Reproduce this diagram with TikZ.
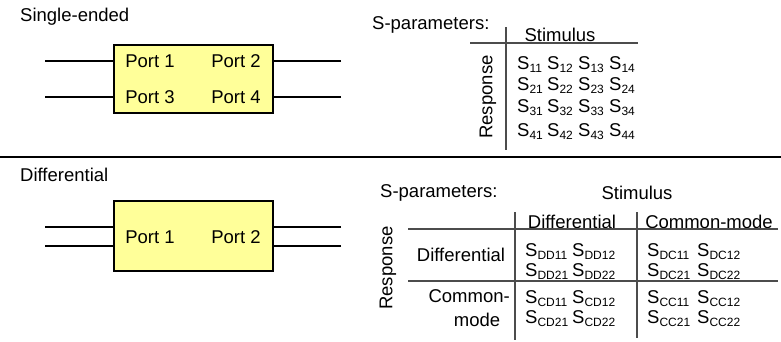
\documentclass[tikz,border=0pt]{standalone}
\usepackage{fontspec}
\setmainfont{Liberation Sans}
\definecolor{boxyellow}{RGB}{255,255,153}
\newcommand{\Sp}[1]{S\raisebox{-3.5pt}{\fontsize{12}{12}\selectfont #1}}
\begin{document}
\begin{tikzpicture}[x=1pt,y=-1pt, font=\fontsize{18.5}{20}\selectfont,
  txt/.style={inner sep=0pt},
  portbox/.style={draw, line width=1.4pt, fill=boxyellow, minimum width=159pt, inner sep=0pt},
  wire/.style={line width=1.3pt},
  tline/.style={line width=1.2pt, draw=black!70},
  entry/.style={inner sep=0pt, anchor=base west}]
\useasboundingbox (0,0) rectangle (781,341);

% ---------- Single-ended ----------
\node[txt, anchor=west] (se) at (20,17) {Single-ended};
\node[portbox, minimum height=68pt] (b1) at (193.5,79) {};
\node[txt] (p1) at (150,61) {Port 1};
\node[txt] (p2) at (236,61) {Port 2};
\node[txt] (p3) at (150,97) {Port 3};
\node[txt] (p4) at (236,97) {Port 4};
\coordinate (w1l) at (45,61);
\coordinate (w2l) at (45,97);
\coordinate (w1r) at (341,61);
\coordinate (w2r) at (341,97);
\draw[wire] (w1l) -- (w1l -| b1.west);
\draw[wire] (w2l) -- (w2l -| b1.west);
\draw[wire] (w1r) -- (w1r -| b1.east);
\draw[wire] (w2r) -- (w2r -| b1.east);

% top S-parameter matrix
\node[txt, anchor=west] (sp1) at (372,25) {S-parameters:};
\node[txt] (st1) at (560,35) {Stimulus};
\coordinate (v1t) at (506,27);
\coordinate (v1b) at (506,150);
\draw[tline] (v1t) -- (v1b);
\coordinate (h1l) at (470,43);
\coordinate (h1r) at (638,43);
\draw[tline] (h1l) -- (h1r);
\node[txt, rotate=90] (resp1) at (488,97) {Response};
\foreach \r/\yy in {1/69,2/90,3/112,4/136}{
  \foreach \c/\xx in {1/517,2/547,3/578,4/609}{
    \node[entry] (s\r\c) at (\xx,\yy) {\Sp{\r\c}};
  }
}

% divider
\coordinate (dl) at (0,157);
\coordinate (dr) at (781,157);
\draw[line width=1.8pt] (dl) -- (dr);

% ---------- Differential ----------
\node[txt, anchor=west] (df) at (20,175) {Differential};
\node[portbox, minimum height=70pt] (b2) at (193.5,236) {};
\node[txt] (q1) at (150,237) {Port 1};
\node[txt] (q2) at (236,237) {Port 2};
\coordinate (x1l) at (45,227);
\coordinate (x2l) at (45,246);
\coordinate (x1r) at (341,227);
\coordinate (x2r) at (341,246);
\draw[wire] (x1l) -- (x1l -| b2.west);
\draw[wire] (x2l) -- (x2l -| b2.west);
\draw[wire] (x1r) -- (x1r -| b2.east);
\draw[wire] (x2r) -- (x2r -| b2.east);

% bottom table
\node[txt, anchor=west] (sp2) at (380,193) {S-parameters:};
\node[txt] (st2) at (637,193) {Stimulus};
\node[txt] (hd) at (572,222) {Differential};
\node[txt] (hc) at (709,222) {Common-mode};
\node[txt] (rd) at (461,255) {Differential};
\node[txt, anchor=east] (rc1) at (510,296) {Common-};
\node[txt] (rc2) at (477,320) {mode};
\node[txt, rotate=90] (resp2) at (388,268) {Response};
\coordinate (va1) at (515,212);
\coordinate (va2) at (515,340);
\coordinate (vb1) at (637,212);
\coordinate (vb2) at (637,338);
\draw[tline] (va1) -- (va2);
\draw[tline] (vb1) -- (vb2);
\coordinate (ha1) at (408,229);
\coordinate (ha2) at (778,229);
\coordinate (hb1) at (408,281);
\coordinate (hb2) at (778,281);
\draw[tline] (ha1) -- (ha2);
\draw[tline] (hb1) -- (hb2);

\node[entry] (dd11) at (525,256) {\Sp{DD11}};
\node[entry] (dd12) at (572,256) {\Sp{DD12}};
\node[entry] (dd21) at (525,276) {\Sp{DD21}};
\node[entry] (dd22) at (572,276) {\Sp{DD22}};
\node[entry] (dc11) at (647,256) {\Sp{DC11}};
\node[entry] (dc12) at (697,256) {\Sp{DC12}};
\node[entry] (dc21) at (647,276) {\Sp{DC21}};
\node[entry] (dc22) at (697,276) {\Sp{DC22}};
\node[entry] (cd11) at (525,303) {\Sp{CD11}};
\node[entry] (cd12) at (572,303) {\Sp{CD12}};
\node[entry] (cd21) at (525,323) {\Sp{CD21}};
\node[entry] (cd22) at (572,323) {\Sp{CD22}};
\node[entry] (cc11) at (647,303) {\Sp{CC11}};
\node[entry] (cc12) at (697,303) {\Sp{CC12}};
\node[entry] (cc21) at (647,323) {\Sp{CC21}};
\node[entry] (cc22) at (697,323) {\Sp{CC22}};
\end{tikzpicture}
\end{document}
